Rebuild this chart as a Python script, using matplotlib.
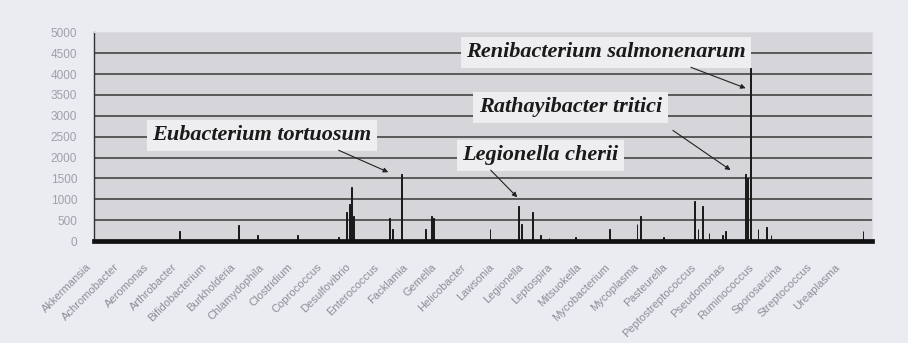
import matplotlib.pyplot as plt
import matplotlib.transforms as mtransforms
import numpy as np

# number of species along the x axis (one slot per species)
n_species = 1080

# species slots that show a visible count, and the counts
peak_index = [118, 200, 226, 282, 339, 350, 354, 357, 360, 410, 414, 426,
              460, 468, 471, 549, 589, 593, 608, 619, 631, 668, 715, 753,
              758, 790, 833, 838, 844, 853, 872, 876, 904, 907, 911, 921,
              933, 939, 1067]
peak_count = [250, 380, 150, 150, 100, 700, 900, 1300, 600, 550, 300, 1600,
              300, 600, 550, 300, 850, 400, 700, 150, 80, 100, 300, 400,
              600, 100, 950, 300, 850, 200, 150, 250, 1600, 1500, 4150, 300,
              350, 150, 250]

genus_labels = ['Akkermansia', 'Achromobacter', 'Aeromonas', 'Arthrobacter',
                'Bifidobacterium', 'Burkholderia', 'Chlamydophila',
                'Clostridium', 'Coprococcus', 'Desulfovibrio', 'Enterococcus',
                'Facklamia', 'Gemella', 'Helicobacter', 'Lawsonia',
                'Legionella', 'Leptospira', 'Mitsuokella', 'Mycobacterium',
                'Mycoplasma', 'Pasteurella', 'Peptostreptococcus',
                'Pseudomonas', 'Ruminococcus', 'Sporosarcina',
                'Streptococcus', 'Ureaplasma']
label_step = 40
label_offset = -12

y_ticks = list(range(0, 5001, 500))

# (text, text position, arrow tail, arrow head) in data units
callouts = [
    ('Eubacterium tortuosum', (233, 2530), (339, 2175), (408, 1650)),
    ('Legionella cherii', (619, 2055), (550, 1700), (587, 1050)),
    ('Rathayibacter tritici', (661, 3200), (803, 2650), (883, 1700)),
    ('Renibacterium salmonenarum', (710, 4520), (828, 4160), (904, 3660)),
]


def main():
    fig = plt.figure(figsize=(9.08, 3.43), dpi=100, facecolor='#ebebf2')
    ax = fig.add_axes([0.1035, 0.297, 0.857, 0.609])
    ax.set_facecolor('#d5d5da')

    ax.bar(peak_index, peak_count, width=1.0, color='#1a1a1a',
           edgecolor='#1a1a1a', linewidth=0.7, zorder=3)

    ax.set_xlim(-0.5, n_species - 0.5)
    ax.set_ylim(0, 5000)

    # gridlines (the top one is only the plot border)
    ax.hlines(y_ticks[1:-1], -0.5, n_species - 0.5, color='#505050',
              linewidth=1.3, zorder=1)

    ax.set_yticks(y_ticks)
    ax.set_yticklabels([str(v) for v in y_ticks], fontsize=8.5,
                       color='#a0a0a8', family='Liberation Sans')
    ax.tick_params(axis='y', length=0, pad=12)
    ax.set_xticks([])

    for side in ['top', 'right']:
        ax.spines[side].set_color('#dcdce2')
        ax.spines[side].set_linewidth(0.8)
    ax.spines['left'].set_color('#333333')
    ax.spines['left'].set_linewidth(1.0)
    ax.spines['bottom'].set_color('#111111')
    ax.spines['bottom'].set_linewidth(3.4)
    ax.spines['bottom'].set_zorder(4)

    # rotated genus labels
    trans = mtransforms.blended_transform_factory(ax.transData, ax.transAxes)
    for k, name in enumerate(genus_labels):
        ax.text(label_offset + k * label_step, -0.1, name, transform=trans,
                rotation=45, rotation_mode='anchor', ha='right', va='top',
                fontsize=8, color='#8e8e96', family='Liberation Sans',
                clip_on=False)

    # species callouts
    for text, pos, tail, head in callouts:
        ax.text(pos[0], pos[1], text, ha='center', va='center',
                fontsize=16, fontweight='bold', fontstyle='italic',
                family='Liberation Serif', color='#1a1a1a', zorder=5,
                bbox=dict(boxstyle='square,pad=0.25', facecolor='#eeeef1',
                          edgecolor='none'))
        ax.annotate('', xy=head, xytext=tail, zorder=5,
                    arrowprops=dict(arrowstyle='-|>', color='#222222',
                                    lw=0.8, mutation_scale=7,
                                    shrinkA=0, shrinkB=0))

    fig.savefig('out.png', dpi=100, facecolor=fig.get_facecolor())


if __name__ == "__main__":
    main()
